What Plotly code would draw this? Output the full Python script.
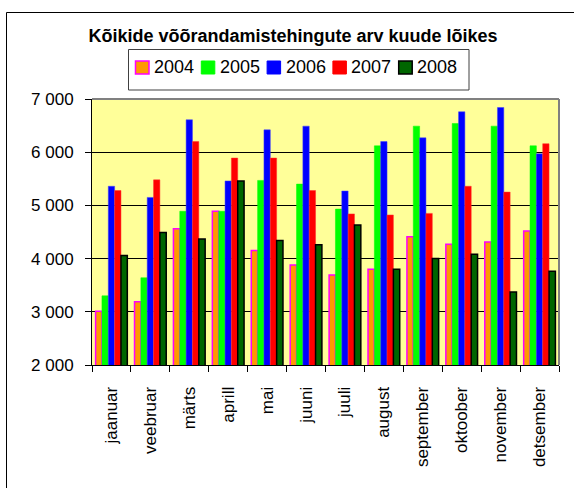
import plotly.graph_objects as go

months = ["jaanuar", "veebruar", "märts", "aprill", "mai", "juuni", "juuli",
          "august", "september", "oktoober", "november", "detsember"]
years = ["2004", "2005", "2006", "2007", "2008"]

v2004 = [3010, 3190, 4560, 4890, 4150, 3880, 3690, 3800, 4410, 4270, 4310, 4520]
v2005 = [3300, 3640, 4890, 4890, 5470, 5400, 4930, 6120, 6490, 6540, 6490, 6120]
v2006 = [5360, 5150, 6610, 5460, 6420, 6490, 5270, 6200, 6270, 6760, 6840, 5970]
v2007 = [5280, 5480, 6200, 5890, 5890, 5280, 4840, 4820, 4850, 5360, 5250, 6160]
v2008 = [4060, 4490, 4370, 5460, 4340, 4260, 4630, 3800, 4000, 4080, 3370, 3760]

ytick_vals = [2000, 3000, 4000, 5000, 6000, 7000]
ytick_text = ["2 000", "3 000", "4 000", "5 000", "6 000", "7 000"]

title_text = "Kõikide võõrandamistehingute arv kuude lõikes"

series = [v2004, v2005, v2006, v2007, v2008]
fills = ["#FF9900", "#00FF00", "#0000FF", "#FF0000", "#006600"]
outlines = ["#FF00FF", "#00FF00", "#4040FF", "#FF3030", "#000000"]
outline_w = [1.5, 0.5, 0.5, 0.5, 1.5]

FONT = "Liberation Sans, Arial, sans-serif"

fig = go.Figure()
for name, vals, fc, lc, lw in zip(years, series, fills, outlines, outline_w):
    fig.add_trace(go.Bar(x=months, y=vals, name=name, showlegend=False,
                         marker=dict(color=fc, line=dict(color=lc, width=lw))))

W, H = 574, 488
L, R, T, B = 92, 15, 99, 123
pw, ph = W - L - R, H - T - B


def px_x(p):
    return (p - L) / pw


def px_y(p):
    return (H - B - p) / ph


shapes = [
    # gray frame on top and right of the plot area
    dict(type="line", xref="paper", yref="paper", x0=0, x1=1, y0=1, y1=1,
         line=dict(color="#808080", width=2), layer="above"),
    dict(type="line", xref="paper", yref="paper", x0=1, x1=1, y0=0, y1=1,
         line=dict(color="#808080", width=2), layer="above"),
    # outer chart border (left and top visible)
    dict(type="rect", xref="paper", yref="paper",
         x0=px_x(6.5), x1=px_x(W + 20), y0=px_y(H + 20), y1=px_y(12.5),
         line=dict(color="black", width=1), layer="below"),
    # legend box
    dict(type="rect", xref="paper", yref="paper",
         x0=px_x(128.5), x1=px_x(469), y0=px_y(90), y1=px_y(49.5),
         line=dict(color="#404040", width=1), fillcolor="white", layer="below"),
]
annotations = []

# legend entries
pitch = 65.8
for i, (name, fc, lc, lw) in enumerate(zip(years, fills, outlines, outline_w)):
    sx = 135.5 + pitch * i
    shapes.append(dict(type="rect", xref="paper", yref="paper",
                       x0=px_x(sx), x1=px_x(sx + 13.5),
                       y0=px_y(74), y1=px_y(61),
                       fillcolor=fc, line=dict(color=lc if lw > 1 else fc, width=max(lw, 1)),
                       layer="above"))
    annotations.append(dict(text=name, xref="paper", yref="paper",
                            x=px_x(sx + 16.5), y=px_y(66.5),
                            xanchor="left", yanchor="middle", showarrow=False,
                            font=dict(size=18, family=FONT, color="black")))

fig.update_layout(
    width=W, height=H,
    margin=dict(l=L, r=R, t=T, b=B, pad=0),
    paper_bgcolor="white",
    plot_bgcolor="#FFFF99",
    barmode="group",
    bargap=0.185,
    bargroupgap=0,
    font=dict(family=FONT, size=17, color="black"),
    title=dict(text="<b>" + title_text + "</b>",
               font=dict(size=18, family=FONT, color="black"),
               x=293 / W, xanchor="center", xref="container",
               y=1 - 36 / H, yanchor="middle", yref="container"),
    showlegend=False,
    xaxis=dict(showline=True, linecolor="black", linewidth=1, mirror=False,
               ticks="outside", tickson="boundaries", ticklen=6, tickcolor="black",
               tickangle=-90, tickfont=dict(size=17), showgrid=False,
               ticklabelstandoff=14, automargin=False),
    yaxis=dict(range=[2000, 7000], tickvals=ytick_vals, ticktext=ytick_text,
               showline=True, linecolor="black", linewidth=1,
               ticks="outside", ticklen=6, tickcolor="black",
               showgrid=True, gridcolor="black", gridwidth=1, zeroline=False,
               tickfont=dict(size=17), ticklabelstandoff=8, automargin=False),
    shapes=shapes,
    annotations=annotations,
)

fig.write_html("out.html",
               config={"displayModeBar": False, "staticPlot": True},
               post_script="document.body.style.margin='0px';document.body.style.overflow='hidden';")
